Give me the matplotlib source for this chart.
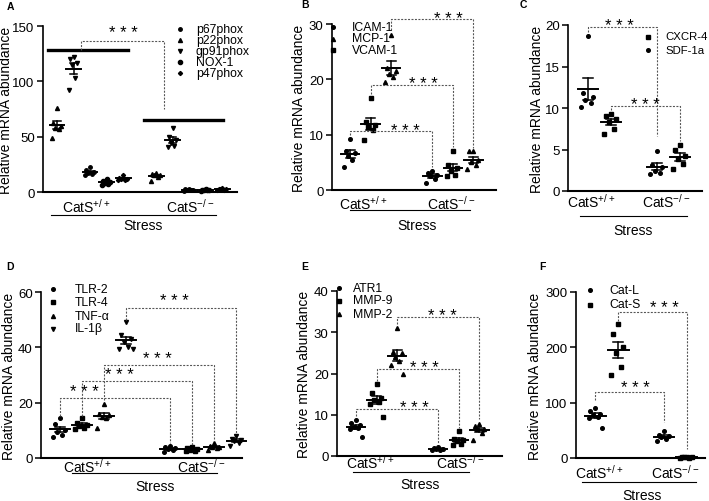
import numpy as np
import matplotlib
matplotlib.use("Agg")
import matplotlib.pyplot as plt
from matplotlib.lines import Line2D
from matplotlib.transforms import blended_transform_factory

plt.rcParams['font.family'] = ['Liberation Sans', 'DejaVu Sans']
plt.rcParams['mathtext.default'] = 'regular'

W, H = 709, 502

# ---- values ----
# A  (columns in plot order, legend in its own order)
a_cols = ["p22phox", "gp91phox", "p67phox", "NOX-1", "p47phox"]
a_legend = ["p67phox", "p22phox", "gp91phox", "NOX-1", "p47phox"]
a_wt = [[76, 62, 60, 58, 57, 49], [122, 120, 117, 115, 103, 92], [23, 20, 18, 17, 16, 15],
        [12, 10, 9, 8, 7, 6], [15, 13, 12, 12, 11, 11]]
a_ko = [[17, 16, 15, 15, 14, 10], [58, 50, 47, 44, 42, 41], [3, 2.5, 2, 1.8, 1.5, 1.2],
        [2.6, 2.2, 2, 1.7, 1.4, 1.2], [3.5, 3, 2.6, 2.3, 2, 1.8]]

# B
b_cols = ["ICAM-1", "VCAM-1", "MCP-1"]
b_legend = ["ICAM-1", "MCP-1", "VCAM-1"]
b_wt = [[9.3, 7, 6.6, 6.2, 5.5, 4.2], [16.7, 12.3, 11.8, 11.3, 10.8, 9], [28, 22, 21.5, 21, 20.5, 19.5]]
b_ko = [[3.5, 3, 2.7, 2.5, 2, 1.3], [7, 4.5, 4, 3.5, 2.8, 2.5], [7, 7, 5.5, 5, 4.5, 3.8]]

# C
c_cols = ["SDF-1a", "CXCR-4"]
c_legend = ["CXCR-4", "SDF-1a"]
c_wt = [[18.7, 11.8, 11.3, 11, 10.6, 10.1], [9.3, 9, 8.7, 8.3, 7.5, 6.9]]
c_ko = [[4.8, 3.1, 2.9, 2.4, 2.2, 2], [5.6, 4.9, 4.2, 3.9, 3.3, 2.6]]

# D
d_cols = ["TLR-2", "TLR-4", "TNF-α", "IL-1β"]
d_wt = [[14.3, 12.3, 10, 9.5, 8.3, 7.7], [14.5, 12.5, 12, 11.5, 11, 10.5],
        [19.5, 16, 15.5, 15, 14.5, 10.8], [49, 44.5, 43, 42, 40, 39.5, 39.5]]
d_ko = [[4.5, 4, 3.5, 3.2, 3, 2], [4, 3.5, 3.2, 3, 2.7, 2.5], [5.5, 4.5, 4, 4, 3.7, 3],
        [8, 7, 6.5, 6, 5.5, 4.5]]

# E
e_cols = ["ATR1", "MMP-9", "MMP-2"]
e_wt = [[8.8, 8, 7.5, 7, 6.8, 6.5, 4.5], [17.5, 15.3, 14, 13.5, 13, 12.5, 9.5],
        [31, 25.3, 25, 24, 23, 22, 19.8]]
e_ko = [[2.2, 2, 1.8, 1.7, 1.5, 1.4], [6, 4.2, 4, 3.7, 3, 2.7], [7.8, 7.3, 6.5, 6.5, 5.5, 4]]

# F
f_cols = ["Cat-L", "Cat-S"]
f_wt = [[90, 85, 80, 77, 75, 72, 55], [243, 225, 200, 190, 165, 150]]
f_ko = [[48, 42, 40, 38, 35, 30], [2, 1.5, 1, 1, 0.5, 0.5]]

# marker per gene
marks = {"p67phox": ("o", 2.5), "p22phox": ("^", 2.9), "gp91phox": ("v", 2.9), "NOX-1": ("o", 3.0),
         "p47phox": ("D", 2.1), "ICAM-1": ("o", 2.6), "MCP-1": ("^", 2.9), "VCAM-1": ("s", 2.5),
         "CXCR-4": ("s", 2.5), "SDF-1a": ("o", 2.6), "TLR-2": ("o", 2.6), "TLR-4": ("s", 2.5),
         "TNF-α": ("^", 2.9), "IL-1β": ("v", 2.9), "ATR1": ("o", 2.6), "MMP-9": ("s", 2.5),
         "MMP-2": ("^", 2.9), "Cat-L": ("o", 2.6), "Cat-S": ("s", 2.5)}

JIT = [0.0, -0.22, 0.22, -0.11, 0.11, -0.3, 0.3]
DASH = dict(color="#555555", lw=0.8, ls=(0, (1.8, 1.3)), clip_on=False)


def fx(px):
    return px / W


def fy(py):
    return 1 - py / H


def panel(letter, rect, ymax, yticks, xlim, cols, wt, ko, brackets, star_dy, lab, legend, thick=()):
    l, t, r, b = rect
    ax = fig.add_axes([fx(l), fy(b), fx(r - l), (b - t) / H])
    ax.set_xlim(*xlim)
    ax.set_ylim(0, ymax)
    ax.set_yticks(yticks)
    ax.set_xticks([])
    for s in ["top", "right"]:
        ax.spines[s].set_visible(False)
    ax.spines["left"].set_linewidth(1.2)
    ax.spines["bottom"].set_linewidth(1.5)
    ax.tick_params(axis="y", length=4, width=1.1, labelsize=9.5, pad=2)
    n = len(cols)
    for i, name in enumerate(cols):
        m, ms = marks[name]
        for x, pts in [(i + 1, wt[i]), (i + n + 2, ko[i])]:
            pts = np.array(pts, dtype=float)
            xs = x + np.array(JIT[:len(pts)])
            ax.plot(xs, pts, ls="none", marker=m, ms=ms, color="k", clip_on=False)
            mu = pts.mean()
            se = pts.std(ddof=1) / np.sqrt(len(pts))
            ax.plot([x - 0.45, x + 0.45], [mu, mu], color="k", lw=1.4, clip_on=False)
            ax.plot([x, x], [mu - se, mu + se], color="k", lw=1.1, clip_on=False)
            for yy in (mu - se, mu + se):
                ax.plot([x - 0.22, x + 0.22], [yy, yy], color="k", lw=1.1, clip_on=False)
    for x1, x2, y in thick:
        ax.plot([x1, x2], [y, y], color="k", lw=2.4, clip_on=False)
    for x1, x2, ytop, y1, y2, xs in brackets:
        ax.plot([x1, x1, x2, x2], [y1, ytop, ytop, y2], **DASH)
        ax.annotate("* * *", (xs, ytop), xytext=(0, star_dy), textcoords="offset pixels",
                    ha="center", va="center", fontsize=12, annotation_clip=False)
    # group labels under the axis
    hp = b - t
    xw, xk, d1, u1, u2, d2, xs_, d3 = lab
    tr = blended_transform_factory(ax.transData, ax.transAxes)
    ax.text(xw, -d1 / hp, "CatS$^{+/+}$", transform=tr, ha="center", va="center", fontsize=10)
    ax.text(xk, -d1 / hp, "CatS$^{-/-}$", transform=tr, ha="center", va="center", fontsize=10)
    ax.plot([u1, u2], [-d2 / hp, -d2 / hp], transform=tr, color="k", lw=0.8, clip_on=False)
    ax.text(xs_, -d3 / hp, "Stress", transform=tr, ha="center", va="center", fontsize=10)
    # y label and panel letter
    fig.text(fx(lab_y[letter]), fy((t + b) / 2), "Relative mRNA abundance", rotation=90,
             ha="center", va="center", fontsize=10)
    lx, ly = letter_pos[letter]
    fig.text(fx(lx), fy(ly), letter, fontsize=7.5, fontweight="bold", ha="left", va="top")
    # legend
    mx, tx, rows, fs = legend
    names = legend_names[letter]
    for name, yy in zip(names, rows):
        m, ms = marks[name]
        fig.add_artist(Line2D([fx(mx)], [fy(yy)], transform=fig.transFigure, marker=m, ms=ms,
                              color="k", ls="none"))
        fig.text(fx(tx), fy(yy), name, fontsize=fs, va="center", ha="left")
    return ax


legend_names = {"A": a_legend, "B": b_legend, "C": c_legend, "D": d_cols, "E": e_cols, "F": f_cols}
lab_y = {"A": 6, "B": 299, "C": 537, "D": 9, "E": 304, "F": 535}
letter_pos = {"A": (7, 2), "B": (301, 0), "C": (520, 0), "D": (6, 262), "E": (301, 262), "F": (539, 262)}

fig = plt.figure(figsize=(7.09, 5.02), dpi=100)

panel("A", (43, 27, 237, 193), 150, [0, 50, 100, 150], (0.15, 11.9), a_cols, a_wt, a_ko,
      [(2.45, 7.45, 136, 128, 75, 5.0)], 9,
      (2.8, 9.06, 14, 0.64, 10.6, 23, 6.2, 33),
      (180, 196, [30, 41, 52, 63, 74], 8.8),
      thick=[(0.47, 5.28, 128), (6.27, 11.08, 65)])

panel("B", (332, 25, 496, 191), 30, [0, 10, 20, 30], (0.12, 8.1), b_cols, b_wt, b_ko,
      [(1, 5, 10.6, 9.9, 4.1, 3.7), (2, 6, 19.0, 17.3, 7.7, 4.55), (3, 7, 30.9, 28.9, 7.6, 5.8)], 1,
      (1.62, 5.9, 13, 1.0, 6.85, 20, 4.25, 35),
      (333, 352, [28, 39.5, 50.5], 8.8))

panel("C", (568, 26, 702, 192), 20, [0, 5, 10, 15, 20], (0.13, 5.95), c_cols, c_wt, c_ko,
      [(1, 4, 19.7, 19.2, 6.6, 2.35), (2, 5, 10.2, 9.7, 6.0, 3.5)], 2,
      (1.16, 4.38, 10, 0.65, 5.3, 25, 2.97, 39),
      (648, 665, [37.5, 51], 8.2))

panel("D", (41, 293, 242, 459), 60, [0, 20, 40, 60], (0.15, 9.25), d_cols, d_wt, d_ko,
      [(1, 6, 21.6, 15.2, 5.4, 2.1), (2, 7, 27.7, 15.3, 4.8, 3.7),
       (3, 8, 33.6, 21.0, 6.2, 5.4), (4, 9, 54.3, 50, 8.5, 6.2)], 7,
      (2.24, 7.4, 8, 1.54, 8.1, 15, 5.33, 28),
      (53, 75, [290, 303, 316.5, 329.5], 8.8))

panel("E", (337, 292, 502, 457), 40, [0, 10, 20, 30, 40], (0.08, 8.1), e_cols, e_wt, e_ko,
      [(1, 5, 11.4, 9.6, 3.0, 3.85), (2, 6, 21.1, 18.3, 6.8, 4.35), (3, 7, 33.8, 32.0, 8.9, 5.2)], 1,
      (1.71, 6.08, 6, 0.87, 6.5, 16, 4.1, 28),
      (338.5, 353, [289, 301.5, 315], 8.8))

panel("F", (576, 293, 705, 459), 300, [0, 100, 200, 300], (0.15, 5.8), f_cols, f_wt, f_ko,
      [(1, 4, 119, 104, 65, 2.75), (2, 5, 263, 248, 17, 4.0)], 5,
      (1.16, 4.5, 14, 0.4, 5.4, 24, 3.06, 37),
      (590, 609.5, [291, 305.5], 8.8))

fig.savefig("out.png", dpi=100)
